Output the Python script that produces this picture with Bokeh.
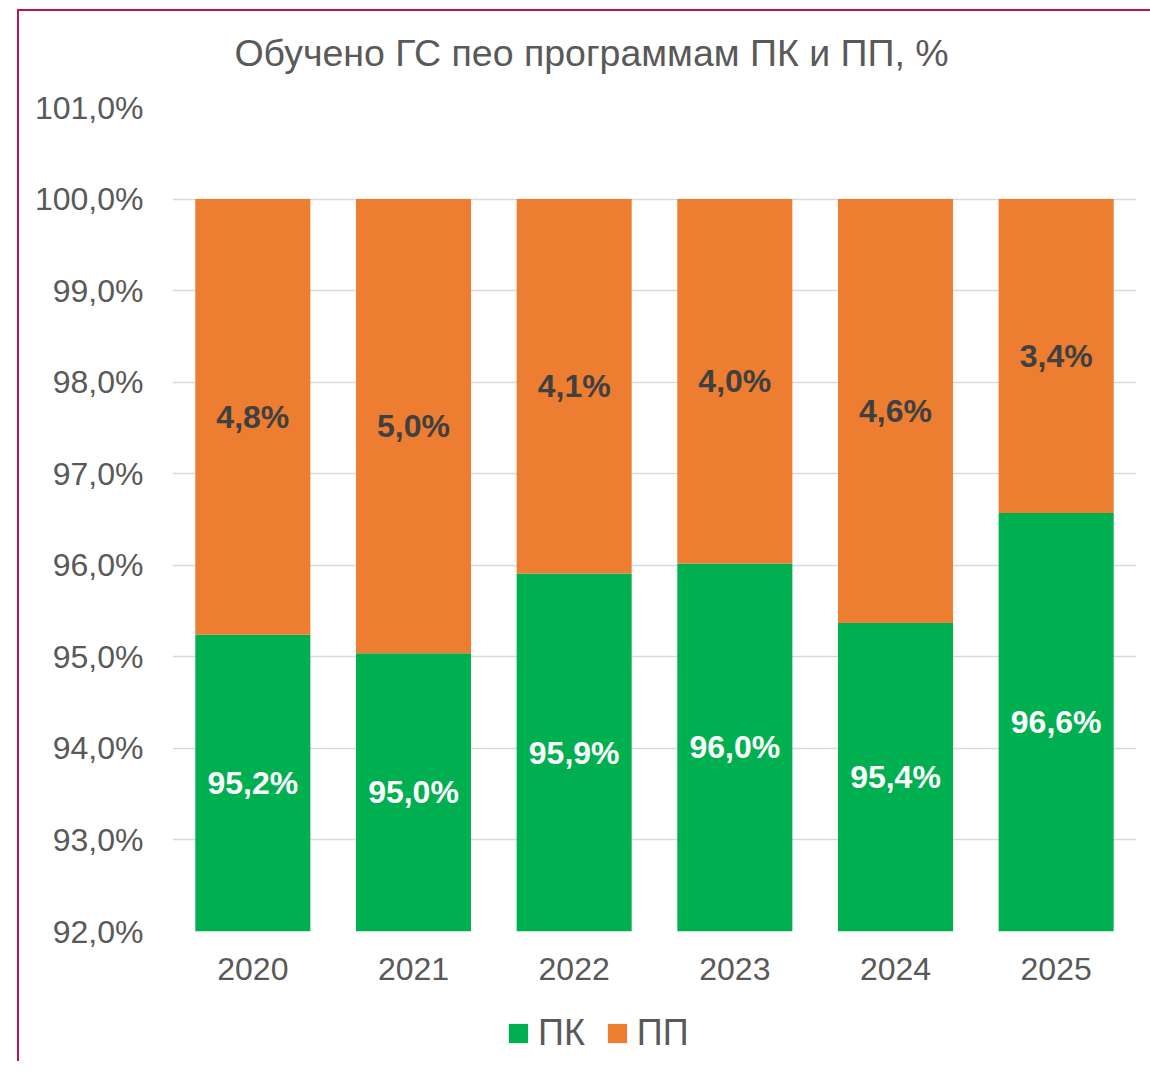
from bokeh.plotting import figure
from bokeh.layouts import column
from bokeh.models import (ColumnDataSource, FactorRange, Range1d, FixedTicker,
                          CustomJSTickFormatter, Legend, LegendItem)
from bokeh.core.properties import value
from bokeh.embed import file_html
from bokeh.resources import INLINE

# ---- data ----
years = ["2020", "2021", "2022", "2023", "2024", "2025"]
pk = [95.24, 95.04, 95.91, 96.02, 95.37, 96.57]
pp = [4.76, 4.96, 4.09, 3.98, 4.63, 3.43]
y_ticks = [92, 93, 94, 95, 96, 97, 98, 99, 100, 101]
series_names = ["ПК", "ПП"]
title_text = "Обучено ГС пео программам ПК и ПП, %"
axis_min = 92.0
axis_max = 101.0

GREEN = "#00B050"
ORANGE = "#ED7D31"
GREY_TXT = "#595959"
BORDER = "#C0144C"
FONT = "Liberation Sans"
W = 1131


def fmt(v):
    return f"{v:.1f}".replace(".", ",") + "%"


pp_top = [a + b for a, b in zip(pk, pp)]
src = ColumnDataSource(dict(
    x=years,
    base=[axis_min] * len(years),
    pk=pk,
    pp_top=pp_top,
    pk_mid=[(axis_min + a) / 2 for a in pk],
    pp_mid=[(a + t) / 2 for a, t in zip(pk, pp_top)],
    pk_lbl=[fmt(v) for v in pk],
    pp_lbl=[fmt(v) for v in pp],
))


def strip(height, xr, yr):
    f = figure(width=W, height=height, x_range=xr, y_range=yr,
               x_axis_location=None, y_axis_location=None,
               output_backend="svg", toolbar_location=None, min_border=0,
               frame_align=False)
    f.outline_line_color = None
    for g in f.grid:
        g.visible = False
    return f


# ---- title strip ----
TH = 75
tfig = strip(TH, Range1d(0, W), Range1d(0, TH))
tfig.text(x=[W / 2 + 6.5], y=[TH - 41], text=[title_text],
          text_font=value(FONT), text_font_size="37.5px", text_color=GREY_TXT,
          text_align="center", text_baseline="middle")

# ---- main chart ----
p = figure(x_range=FactorRange(*years, range_padding=0),
           y_range=Range1d(axis_min, axis_max),
           width=W, height=915,
           output_backend="svg", toolbar_location=None,
           min_border_left=153, min_border_right=14,
           min_border_top=21, min_border_bottom=70,
           frame_align=False)
p.outline_line_color = None

r_pk = p.vbar(x="x", bottom="base", top="pk", width=0.716, source=src,
              fill_color=GREEN, line_color=None)
r_pp = p.vbar(x="x", bottom="pk", top="pp_top", width=0.716, source=src,
              fill_color=ORANGE, line_color=None)

p.text(x="x", y="pk_mid", text="pk_lbl", source=src,
       text_font=value(FONT), text_font_size="32px", text_font_style="bold",
       text_color="white", text_align="center", text_baseline="middle")
p.text(x="x", y="pp_mid", text="pp_lbl", source=src,
       text_font=value(FONT), text_font_size="32px", text_font_style="bold",
       text_color="#404040", text_align="center", text_baseline="middle")

p.yaxis.ticker = FixedTicker(ticks=y_ticks)
p.yaxis.formatter = CustomJSTickFormatter(
    code="return tick.toFixed(1).replace('.', ',') + '%';")
for ax in (p.xaxis[0], p.yaxis[0]):
    ax.axis_line_color = None
    ax.major_tick_line_color = None
    ax.minor_tick_line_color = None
    ax.major_tick_out = 0
    ax.major_tick_in = 0
    ax.major_label_text_font = FONT
    ax.major_label_text_font_size = "32px"
    ax.major_label_text_color = GREY_TXT
p.yaxis.major_label_standoff = 29
p.xaxis.major_label_standoff = 26

p.xgrid.grid_line_color = None
p.ygrid.grid_line_color = "#D9D9D9"
p.ygrid.grid_line_width = 1.5
p.ygrid.ticker = FixedTicker(ticks=y_ticks)

# ---- legend strip ----
LH = 60
lfig = strip(LH, Range1d(0, 1), Range1d(0, 1))
# zero-height proxies that only carry the series colours for the legend keys
lg_pk = lfig.vbar(x=[0.5], bottom=[0], top=[0], width=0.1,
                  fill_color=GREEN, line_color=None)
lg_pp = lfig.vbar(x=[0.5], bottom=[0], top=[0], width=0.1,
                  fill_color=ORANGE, line_color=None)
legend = Legend(items=[LegendItem(label=series_names[0], renderers=[lg_pk]),
                       LegendItem(label=series_names[1], renderers=[lg_pp])],
                orientation="horizontal", location=(487, 7.5),
                glyph_width=24, glyph_height=24, label_standoff=8,
                spacing=20, padding=0, margin=0,
                label_text_font=FONT, label_text_font_size="36px",
                label_text_color=GREY_TXT,
                border_line_color=None, background_fill_alpha=0)
lfig.add_layout(legend, "center")

layout = column(tfig, p, lfig, spacing=0)
layout.styles = {"margin-left": "17px", "margin-top": "9px",
                 "border-left": f"2px solid {BORDER}",
                 "border-top": f"2px solid {BORDER}"}

open("out.html", "w").write(file_html(layout, INLINE))
